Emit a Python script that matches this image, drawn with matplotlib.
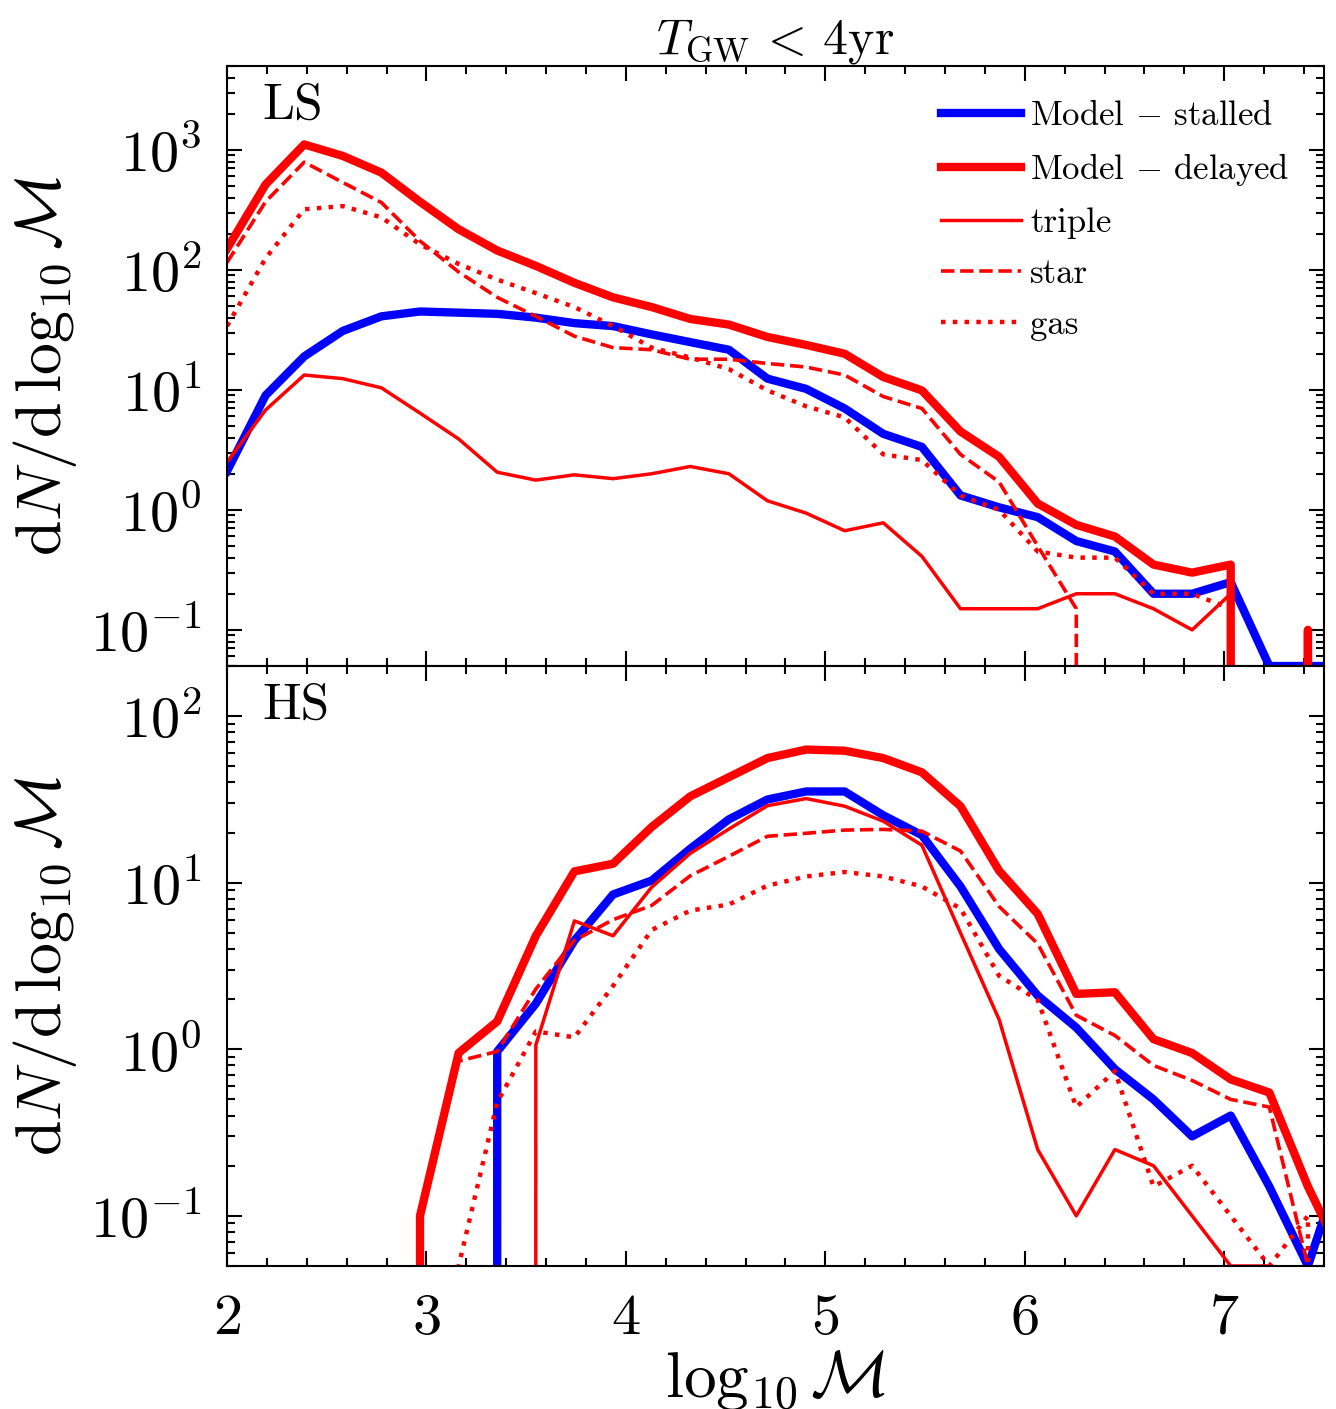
import numpy as np
import matplotlib
matplotlib.use('Agg')
import matplotlib.pyplot as plt

plt.rcParams['font.family'] = ['cmr10', 'DejaVu Serif']
plt.rcParams['mathtext.fontset'] = 'cm'
plt.rcParams['axes.formatter.use_mathtext'] = True

# bin positions in log10 chirp mass
logM = 2 + np.arange(30) * 6 / 31

# LS panel
stalled_LS = [2.1, 9.0, 19, 31, 41, 45, 44, 43, 40, 36, 34, 29, 25, 21.6, 12.4,
              10.2, 7.0, 4.3, 3.35, 1.32, 1.05, 0.87, 0.55, 0.45, 0.2, 0.2, 0.25, 0.05, 0.05, 0.05]
delayed_LS = [150, 515, 1110, 890, 646, 369, 218, 145, 108, 78, 59, 49, 39, 35, 27.6,
              23.7, 20, 12.8, 9.9, 4.5, 2.77, 1.13, 0.75, 0.6, 0.35, 0.3, 0.35, 0, 0.1, 0]
triple_LS = [2.5, 6.8, 13.3, 12.4, 10.4, 6.4, 3.9, 2.06, 1.77, 1.96, 1.82, 2.0, 2.3, 2.0, 1.19,
             0.94, 0.67, 0.78, 0.41, 0.15, 0.15, 0.15, 0.2, 0.2, 0.15, 0.1, 0.2, 0, 0, 0]
star_LS = [115, 370, 790, 535, 364, 174, 96, 59, 41, 28, 22.5, 21.6, 18, 18, 16.6,
           15.5, 13.3, 8.8, 7.0, 2.9, 1.71, 0.5, 0.15, 0, 0, 0, 0, 0, 0, 0]
gas_LS = [34, 125, 320, 340, 274, 163, 112, 83, 64, 49, 34, 22.5, 18.6, 14.9, 9.9,
          7.3, 5.9, 2.9, 2.6, 1.32, 1.0, 0.45, 0.4, 0.4, 0.2, 0.2, 0.15, 0, 0.1, 0]

# HS panel
stalled_HS = [0, 0, 0, 0, 0, 0, 0, 0.97, 1.88, 4.5, 8.5, 10.3, 16, 24, 31.6,
              35.3, 35.3, 25.4, 19.3, 9.5, 4.0, 2.1, 1.35, 0.76, 0.5, 0.3, 0.4, 0.15, 0.05, 0.25]
delayed_HS = [0, 0, 0, 0, 0, 0.1, 0.95, 1.47, 4.8, 11.7, 13, 21.6, 33, 43, 56,
              63, 62, 56, 46, 28.8, 11.8, 6.5, 2.15, 2.2, 1.15, 0.95, 0.66, 0.55, 0.15, 0.05]
triple_HS = [0, 0, 0, 0, 0, 0, 0, 0, 1.06, 5.9, 4.8, 9.4, 15, 21, 29,
             32, 28.8, 23.4, 16.8, 5.0, 1.51, 0.25, 0.1, 0.25, 0.2, 0.1, 0.05, 0.05, 0, 0]
star_HS = [0, 0, 0, 0, 0, 0.1, 0.85, 0.97, 2.3, 4.5, 6.0, 7.3, 11, 14.4, 19,
           19.8, 20.7, 20.9, 20.4, 15.5, 7.2, 4.3, 1.6, 1.21, 0.8, 0.65, 0.5, 0.45, 0.05, 0]
gas_HS = [0, 0, 0, 0, 0, 0, 0.05, 0.48, 1.28, 1.18, 2.4, 5.2, 6.8, 7.4, 9.6,
          10.9, 11.6, 10.9, 9.5, 7.0, 2.76, 1.98, 0.45, 0.74, 0.15, 0.2, 0.1, 0.05, 0.1, 0]

fig = plt.figure(figsize=(13.36, 14.09), dpi=100)
W, H = 1336, 1409
ax1 = fig.add_axes([227 / W, 1 - 666 / H, 1097 / W, 600 / H])
ax2 = fig.add_axes([227 / W, 1 - 1266 / H, 1097 / W, 600 / H], sharex=ax1)


def draw(ax, st, de, tr, sr, ga, legend=False):
    ax.set_yscale('log')
    ax.plot(logM, st, color='blue', lw=6, label=r'Model $-$ stalled')
    ax.plot(logM, de, color='red', lw=6, label=r'Model $-$ delayed')
    ax.plot(logM, tr, color='red', lw=2.5, label='triple')
    ax.plot(logM, sr, color='red', lw=2.6, ls='--', label='star')
    ax.plot(logM, ga, color='red', lw=3.2, ls=':', label='gas')
    ax.tick_params(which='both', direction='in', top=True, right=True, width=1.5)
    ax.tick_params(which='major', length=11, labelsize=42)
    ax.tick_params(which='minor', length=5.5)
    ax.tick_params(axis='y', pad=18)
    ax.tick_params(axis='x', pad=20)
    for s in ax.spines.values():
        s.set_linewidth(1.5)
    ax.set_ylabel(r'${\rm d}N/{\rm d}\,\log_{10}\mathcal{M}$', fontsize=46, labelpad=8)
    if legend:
        ax.legend(loc='upper right', frameon=False, fontsize=25, handlelength=2.3,
                  handletextpad=0.25, labelspacing=0.55, borderaxespad=0.65,
                  borderpad=0.35)


draw(ax1, stalled_LS, delayed_LS, triple_LS, star_LS, gas_LS, legend=True)
draw(ax2, stalled_HS, delayed_HS, triple_HS, star_HS, gas_HS)

ax1.set_ylim(0.05, 5000)
ax2.set_ylim(0.05, 200)
ax2.set_xlim(2, 7.5)
ax2.set_xticks([2, 3, 4, 5, 6, 7])
ax2.set_xticks(np.arange(2, 7.6, 0.2), minor=True)
ax1.tick_params(labelbottom=False)

ax1.text(0.032, 0.972, 'LS', transform=ax1.transAxes, fontsize=37, va='top', ha='left')
ax2.text(0.032, 0.972, 'HS', transform=ax2.transAxes, fontsize=37, va='top', ha='left')

ax1.set_title(r'$T_{\rm GW}\,<\,4{\rm yr}$', fontsize=36, pad=9)
ax2.set_xlabel(r'$\log_{10}\mathcal{M}$', fontsize=47, labelpad=2)

fig.savefig('out.png', dpi=100)
